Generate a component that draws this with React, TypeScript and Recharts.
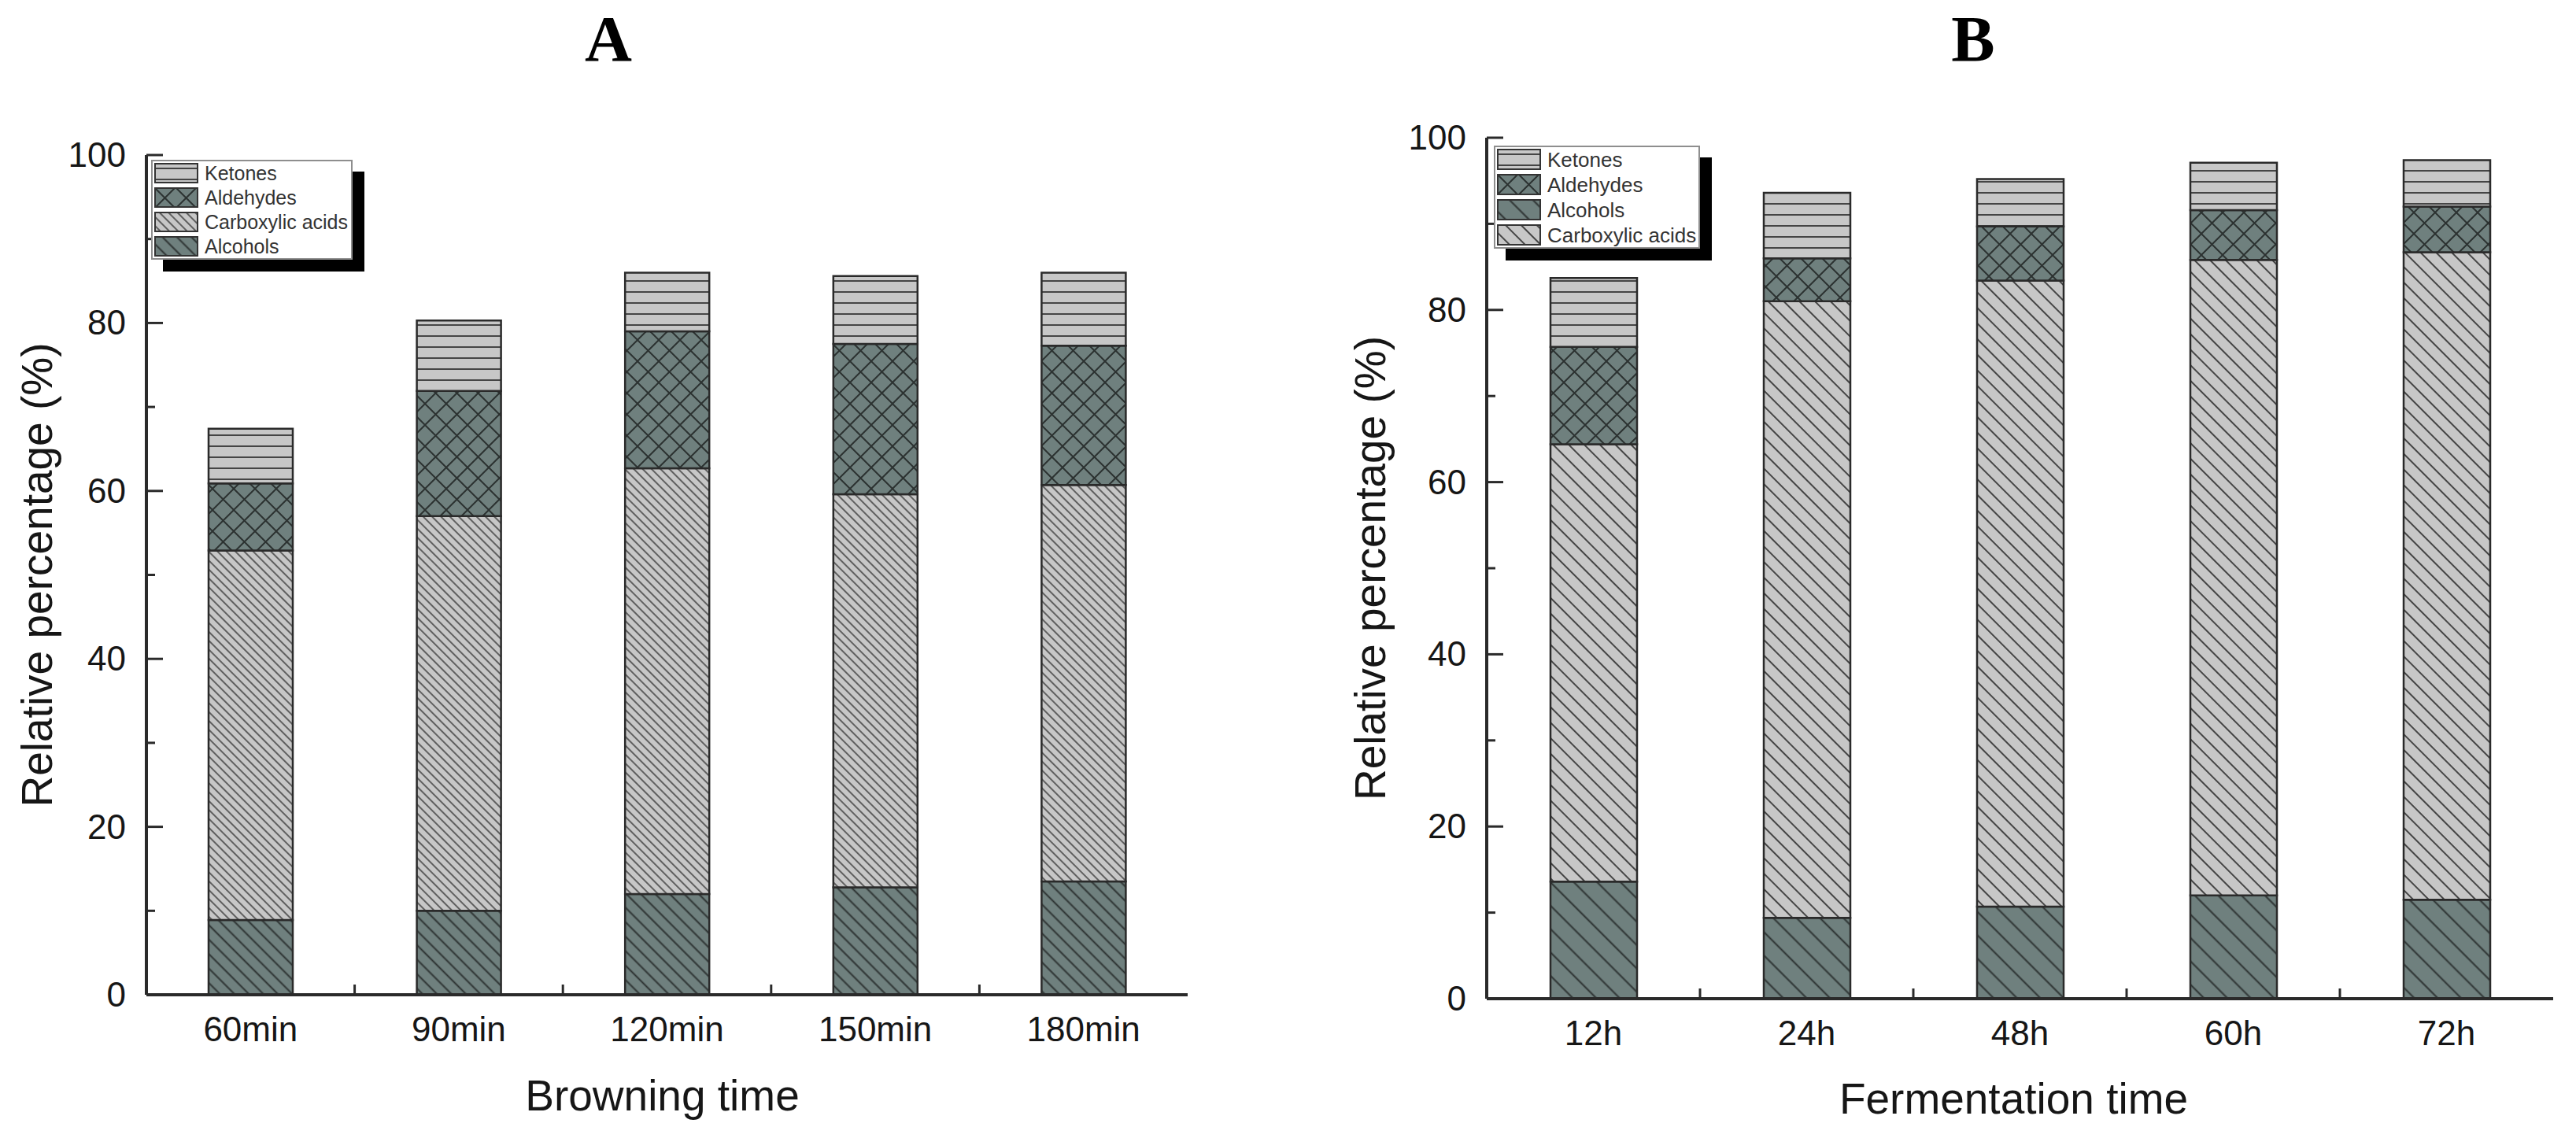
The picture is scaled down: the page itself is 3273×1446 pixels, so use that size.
import React from 'react';
import { BarChart, Bar, XAxis, YAxis, Legend, Label } from 'recharts';

const SANS = '"Liberation Sans", Arial, sans-serif';
const SERIF = '"Liberation Serif", "Times New Roman", serif';

// ---------- data ----------
const browningTimes = ['60min', '90min', '120min', '150min', '180min'];
const browningAlcohols = [8.9, 10.0, 12.0, 12.8, 13.5];
const browningCarboxylic = [44.0, 47.0, 50.7, 46.8, 47.2];
const browningAldehydes = [8.0, 14.9, 16.3, 17.9, 16.6];
const browningKetones = [6.5, 8.4, 7.0, 8.1, 8.7];

const fermentationTimes = ['12h', '24h', '48h', '60h', '72h'];
const fermentationAlcohols = [13.6, 9.4, 10.7, 12.0, 11.5];
const fermentationCarboxylic = [50.8, 71.6, 72.7, 73.8, 75.2];
const fermentationAldehydes = [11.3, 5.0, 6.3, 5.8, 5.3];
const fermentationKetones = [8.0, 7.6, 5.5, 5.5, 5.4];

const yTicks = [0, 10, 20, 30, 40, 50, 60, 70, 80, 90, 100];
const yMajorStep = 20;

type SeriesKey = 'alcohols' | 'carboxylic' | 'aldehydes' | 'ketones';
const seriesNames: Record<SeriesKey, string> = {
  alcohols: 'Alcohols',
  carboxylic: 'Carboxylic acids',
  aldehydes: 'Aldehydes',
  ketones: 'Ketones',
};
const stackOrder: SeriesKey[] = ['alcohols', 'carboxylic', 'aldehydes', 'ketones'];
const legendOrderA: SeriesKey[] = ['ketones', 'aldehydes', 'carboxylic', 'alcohols'];
const legendOrderB: SeriesKey[] = ['ketones', 'aldehydes', 'alcohols', 'carboxylic'];

const buildRows = (
  cats: string[],
  alc: number[],
  carb: number[],
  ald: number[],
  ket: number[]
) =>
  cats.map((name, i) => ({
    name,
    alcohols: alc[i],
    carboxylic: carb[i],
    aldehydes: ald[i],
    ketones: ket[i],
  }));

const dataA = buildRows(browningTimes, browningAlcohols, browningCarboxylic, browningAldehydes, browningKetones);
const dataB = buildRows(
  fermentationTimes,
  fermentationAlcohols,
  fermentationCarboxylic,
  fermentationAldehydes,
  fermentationKetones
);

// ---------- styles ----------
const DARK = '#6f807e';
const LIGHT = '#c7c7c7';
const HATCH_ON_LIGHT = '#454545';
const HATCH_ON_DARK = '#2c3231';
const AXIS = '#2a2a2a';
const TEXT = '#161616';

type PanelCfg = {
  id: string;
  left: number;
  width: number;
  height: number;
  top: number;
  right: number;
  yAxisWidth: number;
  xAxisHeight: number;
  barSize: number;
  data: any[];
  xLabel: string;
  xLabelShift: number;
  xLabelDy: number;
  yLabelX: number;
  legendOrder: SeriesKey[];
  legend: { left: number; top: number; width: number; height: number; pitch: number; swH: number; pad: number; font: number };
  carbGap: number;
  alcGap: number;
  carbStroke: number;
};

const Patterns = ({ id, carbGap, alcGap, carbStroke }: { id: string; carbGap: number; alcGap: number; carbStroke: number }) => (
  <defs>
    <pattern id={`${id}-ketones`} patternUnits="userSpaceOnUse" width={20} height={14}>
      <rect width={20} height={14} fill={LIGHT} />
      <line x1={0} y1={7} x2={20} y2={7} stroke={HATCH_ON_LIGHT} strokeWidth={2} />
    </pattern>
    <pattern id={`${id}-aldehydes`} patternUnits="userSpaceOnUse" width={27} height={27}>
      <rect width={27} height={27} fill={DARK} />
      <path d="M0,0 L27,27 M27,0 L0,27" stroke={HATCH_ON_DARK} strokeWidth={2} />
    </pattern>
    <pattern
      id={`${id}-carboxylic`}
      patternUnits="userSpaceOnUse"
      width={10}
      height={carbGap}
      patternTransform="rotate(45)"
    >
      <rect width={10} height={carbGap} fill={LIGHT} />
      <line x1={0} y1={carbGap / 2} x2={10} y2={carbGap / 2} stroke={HATCH_ON_LIGHT} strokeWidth={carbStroke} />
    </pattern>
    <pattern
      id={`${id}-alcohols`}
      patternUnits="userSpaceOnUse"
      width={10}
      height={alcGap}
      patternTransform="rotate(45)"
    >
      <rect width={10} height={alcGap} fill={DARK} />
      <line x1={0} y1={alcGap / 2} x2={10} y2={alcGap / 2} stroke={HATCH_ON_DARK} strokeWidth={2} />
    </pattern>
  </defs>
);

const LegendBox = ({ cfg }: { cfg: PanelCfg }) => {
  const L = cfg.legend;
  return (
    <div
      style={{
        position: 'relative',
        width: L.width,
        height: L.height,
        boxSizing: 'border-box',
        background: '#fff',
        border: '2px solid #8e8e8e',
        boxShadow: '15px 15px 0 0 #000',
        fontFamily: SANS,
        fontSize: L.font,
        color: '#333',
      }}
    >
      {cfg.legendOrder.map((k, i) => (
        <div
          key={k}
          style={{
            position: 'absolute',
            left: L.pad - 2,
            top: L.pad - 2 + i * L.pitch,
            height: L.swH,
            display: 'flex',
            alignItems: 'center',
            whiteSpace: 'nowrap',
          }}
        >
          <svg width={56} height={L.swH} style={{ display: 'block' }}>
            <rect x={1} y={1} width={54} height={L.swH - 2} fill={`url(#${cfg.id}-${k})`} stroke="#333" strokeWidth={2} />
          </svg>
          <span style={{ marginLeft: 8, lineHeight: 1 }}>{seriesNames[k]}</span>
        </div>
      ))}
    </div>
  );
};

const Panel = ({ cfg }: { cfg: PanelCfg }) => {
  const n = cfg.data.length;
  const plotW = cfg.width - cfg.yAxisWidth - cfg.right;
  const halfBand = plotW / n / 2;

  const XTick = (props: any) => {
    const { x, y, payload, index } = props;
    const off = payload && typeof payload.offset === 'number' && payload.offset > 0 ? payload.offset : halfBand;
    return (
      <g>
        <text x={x} y={y + 59} textAnchor="middle" fontFamily={SANS} fontSize={44} fill={TEXT}>
          {payload.value}
        </text>
        {index < n - 1 && (
          <line x1={x + off} x2={x + off} y1={y} y2={y - 13} stroke={AXIS} strokeWidth={3} />
        )}
      </g>
    );
  };

  const YTick = (props: any) => {
    const { x, y, payload } = props;
    const major = payload.value % yMajorStep === 0;
    return (
      <g>
        <line x1={x} x2={x + (major ? 21 : 11)} y1={y} y2={y} stroke={AXIS} strokeWidth={3} />
        {major && (
          <text x={x - 26} y={y} dy={15} textAnchor="end" fontFamily={SANS} fontSize={44} fill={TEXT}>
            {payload.value}
          </text>
        )}
      </g>
    );
  };

  return (
    <div style={{ position: 'absolute', left: cfg.left, top: 0, width: cfg.width, height: cfg.height }}>
      <BarChart
        width={cfg.width}
        height={cfg.height}
        data={cfg.data}
        margin={{ top: cfg.top, right: cfg.right, left: 0, bottom: 0 }}
      >
        <Patterns id={cfg.id} carbGap={cfg.carbGap} alcGap={cfg.alcGap} carbStroke={cfg.carbStroke} />
        <XAxis
          dataKey="name"
          height={cfg.xAxisHeight}
          interval={0}
          tickLine={false}
          tickSize={0}
          tickMargin={0}
          tick={XTick}
          axisLine={{ stroke: AXIS, strokeWidth: 4 }}
        >
          <Label
            content={(p: any) => {
              const vb = p.viewBox || {};
              return (
                <text
                  x={vb.x + vb.width / 2 + cfg.xLabelShift}
                  y={vb.y + cfg.xLabelDy}
                  textAnchor="middle"
                  fontFamily={SANS}
                  fontSize={55}
                  fill={TEXT}
                >
                  {cfg.xLabel}
                </text>
              );
            }}
          />
        </XAxis>
        <XAxis
          xAxisId="frameTop"
          dataKey="name"
          orientation="top"
          height={0}
          tick={false}
          tickLine={false}
          axisLine={{ stroke: AXIS, strokeWidth: 4 }}
        />
        <YAxis
          width={cfg.yAxisWidth}
          domain={[0, 100]}
          ticks={yTicks}
          interval={0}
          tickLine={false}
          tickSize={0}
          tickMargin={0}
          tick={YTick}
          axisLine={{ stroke: AXIS, strokeWidth: 4 }}
        >
          <Label
            content={(p: any) => {
              const vb = p.viewBox || {};
              const cy = vb.y + vb.height / 2;
              return (
                <text
                  x={cfg.yLabelX}
                  y={cy}
                  transform={`rotate(-90, ${cfg.yLabelX}, ${cy})`}
                  textAnchor="middle"
                  fontFamily={SANS}
                  fontSize={55}
                  fill={TEXT}
                >
                  Relative percentage (%)
                </text>
              );
            }}
          />
        </YAxis>
        <YAxis
          yAxisId="frameRight"
          orientation="right"
          width={0}
          domain={[0, 100]}
          tick={false}
          tickLine={false}
          axisLine={{ stroke: AXIS, strokeWidth: 4 }}
        />
        {stackOrder.map((k) => (
          <Bar
            key={k}
            dataKey={k}
            name={seriesNames[k]}
            stackId="s"
            barSize={cfg.barSize}
            fill={`url(#${cfg.id}-${k})`}
            stroke={AXIS}
            strokeWidth={2.5}
            isAnimationActive={false}
          />
        ))}
        <Legend
          layout="vertical"
          align="center"
          verticalAlign="middle"
          content={() => <LegendBox cfg={cfg} />}
          wrapperStyle={{
            left: cfg.legend.left,
            top: cfg.legend.top,
            width: cfg.legend.width,
            height: cfg.legend.height,
          }}
        />
      </BarChart>
    </div>
  );
};

const panelA: PanelCfg = {
  id: 'pa',
  left: 0,
  width: 1636,
  height: 1446,
  top: 197,
  right: 127,
  yAxisWidth: 186,
  xAxisHeight: 182,
  barSize: 107,
  data: dataA,
  xLabel: 'Browning time',
  xLabelShift: -6,
  xLabelDy: 147,
  yLabelX: 66,
  legendOrder: legendOrderA,
  legend: { left: 192, top: 203, width: 256, height: 127, pitch: 31, swH: 26, pad: 4, font: 25 },
  carbGap: 8,
  alcGap: 13,
  carbStroke: 1.6,
};

const panelB: PanelCfg = {
  id: 'pb',
  left: 1636,
  width: 1637,
  height: 1446,
  top: 175,
  right: 29,
  yAxisWidth: 253,
  xAxisHeight: 177,
  barSize: 110,
  data: dataB,
  xLabel: 'Fermentation time',
  xLabelShift: -8,
  xLabelDy: 146,
  yLabelX: 124,
  legendOrder: legendOrderB,
  legend: { left: 262, top: 185, width: 262, height: 131, pitch: 32, swH: 27, pad: 4, font: 26 },
  carbGap: 14,
  alcGap: 21,
  carbStroke: 2,
};

export default function App() {
  return (
    <div style={{ position: 'absolute', left: 0, top: 0, width: 3273, height: 1446, background: '#fff', overflow: 'hidden' }}>
      <svg width={3273} height={120} style={{ position: 'absolute', left: 0, top: 0 }}>
        <text x={773} y={77} textAnchor="middle" fontFamily={SERIF} fontWeight="bold" fontSize={83} fill="#000">
          A
        </text>
        <text x={2507} y={77} textAnchor="middle" fontFamily={SERIF} fontWeight="bold" fontSize={83} fill="#000">
          B
        </text>
      </svg>
      <Panel cfg={panelA} />
      <Panel cfg={panelB} />
    </div>
  );
}
